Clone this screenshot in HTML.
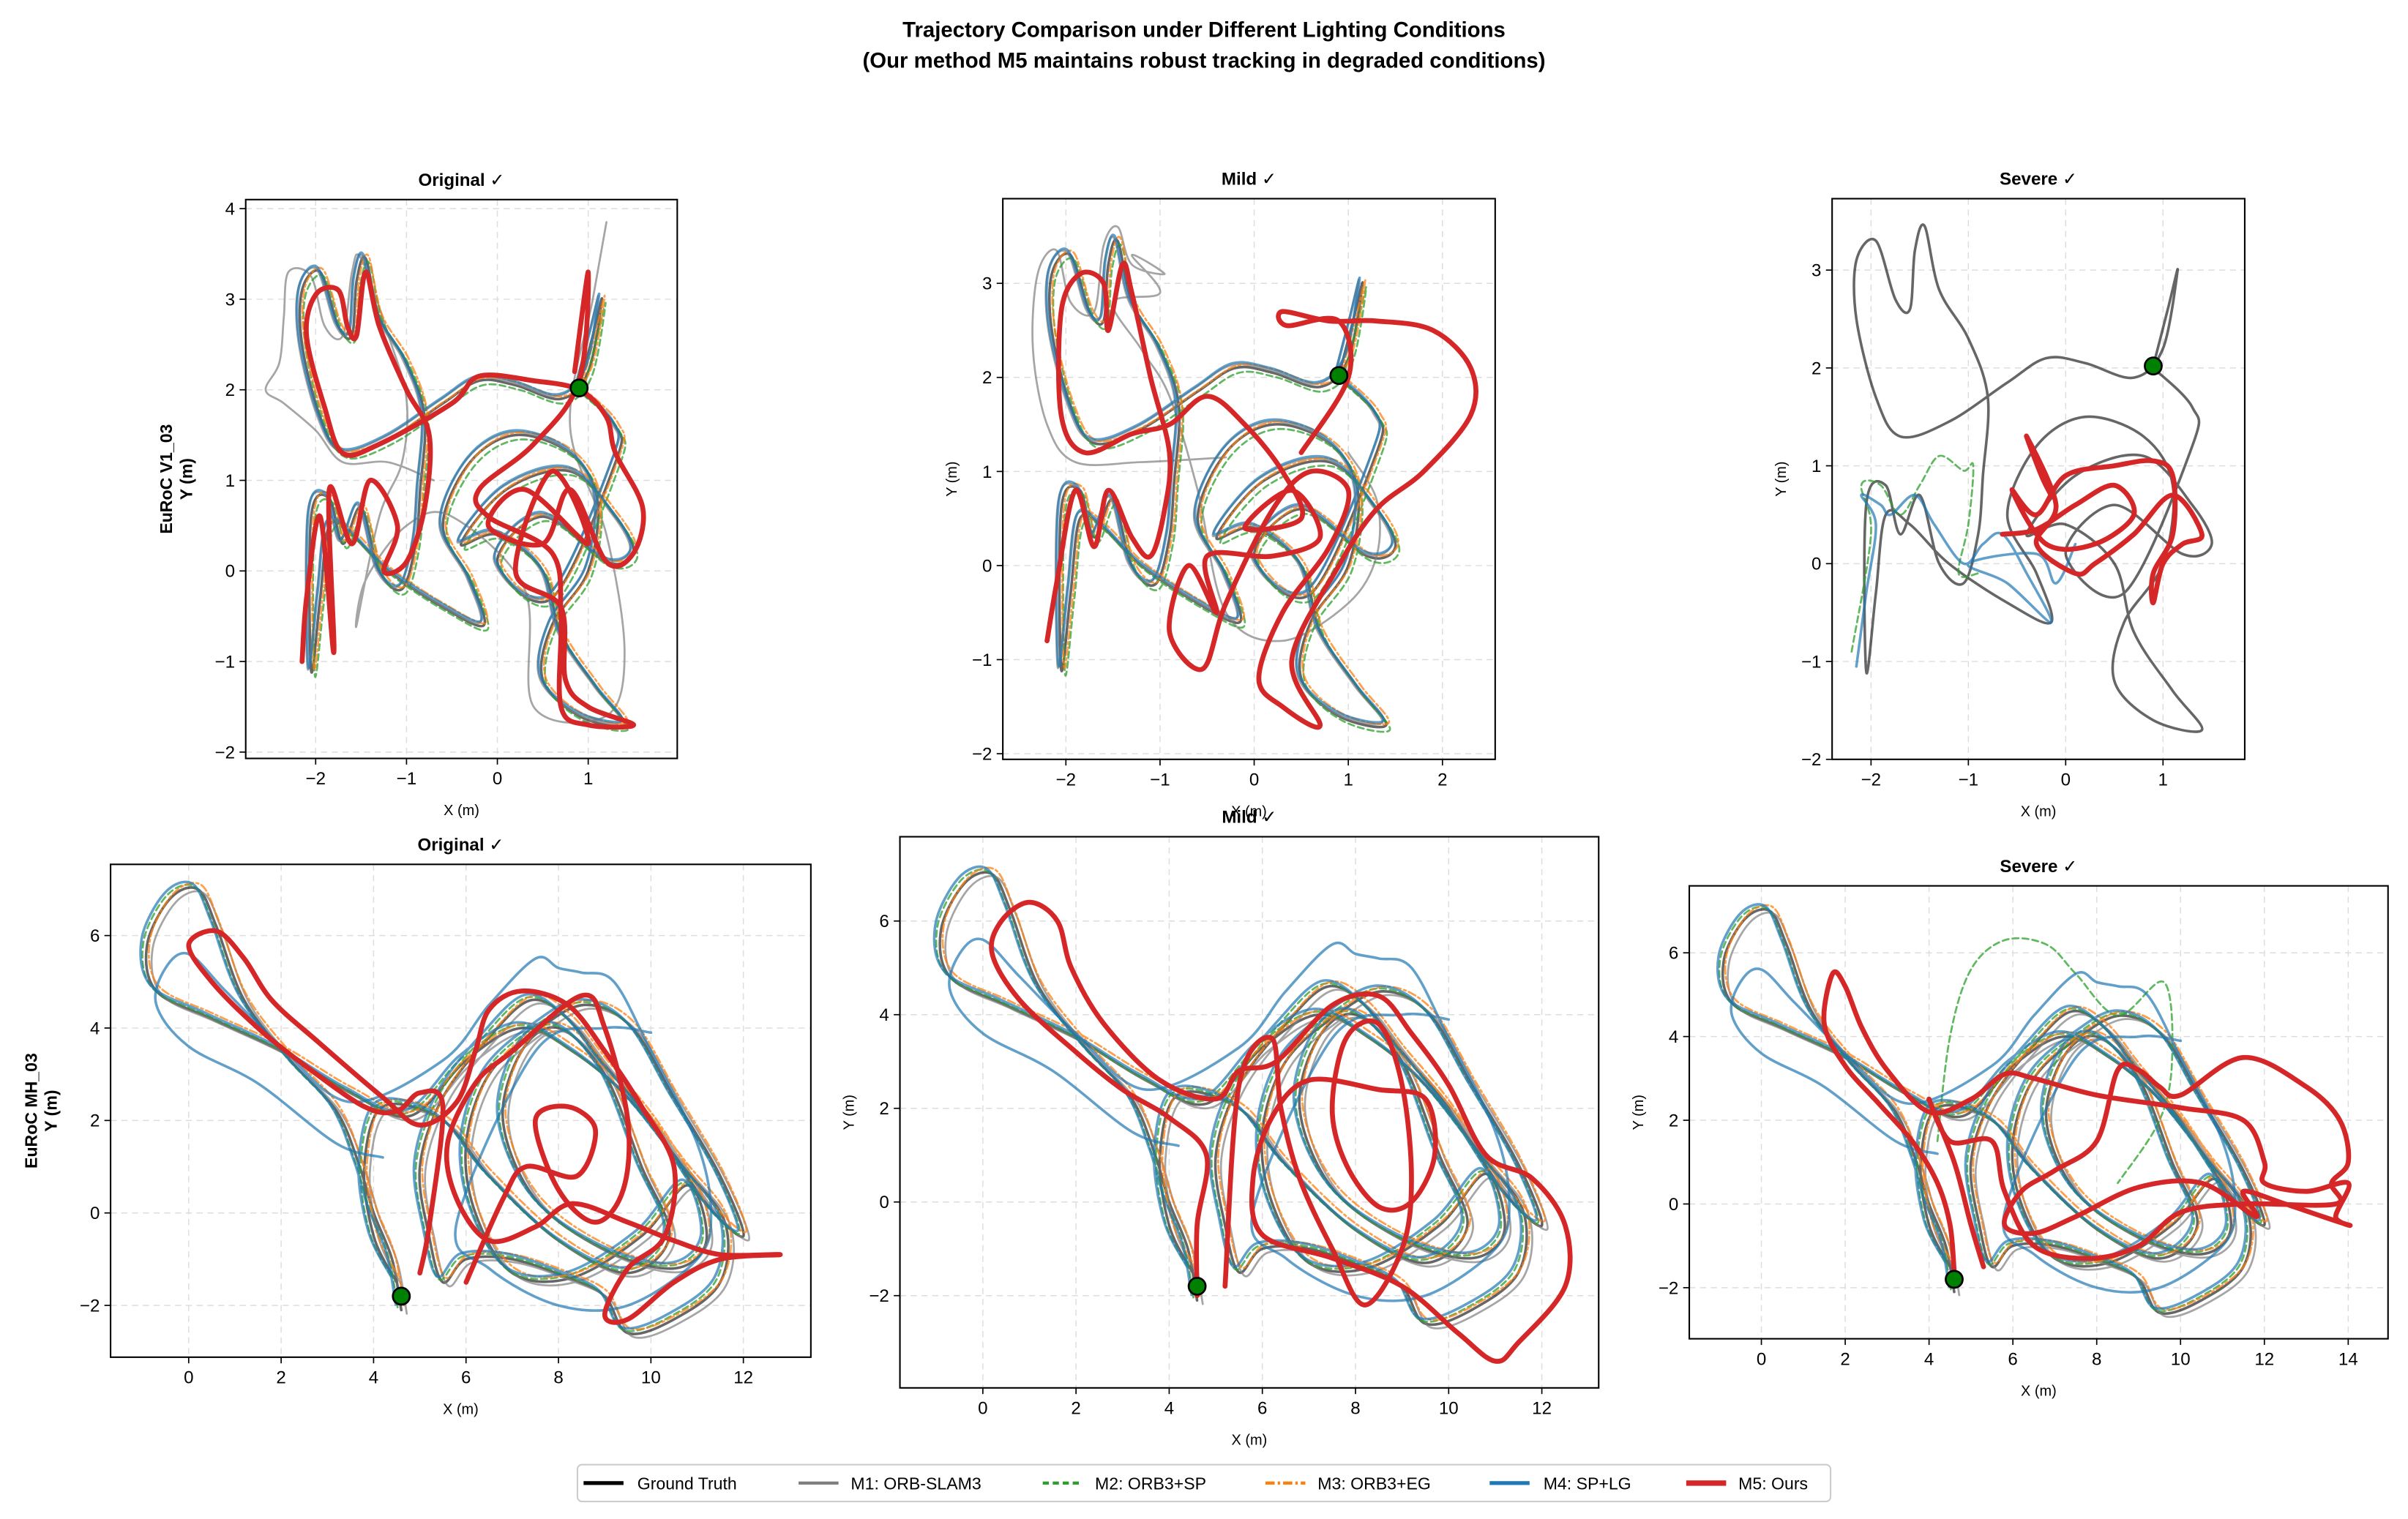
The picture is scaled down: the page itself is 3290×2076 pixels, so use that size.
<!DOCTYPE html>
<html><head><meta charset="utf-8"><style>
html,body{margin:0;padding:0;background:#fff;}
svg{display:block;font-family:"Liberation Sans","DejaVu Sans",sans-serif;}
</style></head><body>
<svg id="chart" width="3290" height="2076" viewBox="0 0 1568 989.4" preserveAspectRatio="none" xmlns="http://www.w3.org/2000/svg">
<rect x="0" y="0" width="1568" height="990" fill="#fff"/>
<text x="784" y="24" text-anchor="middle" font-size="14" font-weight="bold">Trajectory Comparison under Different Lighting Conditions</text>
<text x="784" y="44" text-anchor="middle" font-size="14" font-weight="bold">(Our method M5 maintains robust tracking in degraded conditions)</text>
<g id="panels"></g>
<g>
<rect x="376" y="954" width="816" height="24" rx="3" fill="#fff" stroke="#ccc" stroke-width="1"/>
<line x1="380" y1="966" x2="406" y2="966" stroke="#000" stroke-width="2.5"/><text x="415" y="970" font-size="11">Ground Truth</text>
<line x1="520" y1="966" x2="546" y2="966" stroke="#7f7f7f" stroke-width="2"/><text x="554" y="970" font-size="11">M1: ORB-SLAM3</text>
<line x1="679" y1="966" x2="705" y2="966" stroke="#2ca02c" stroke-width="2" stroke-dasharray="4,2.5"/><text x="713" y="970" font-size="11">M2: ORB3+SP</text>
<line x1="824" y1="966" x2="850" y2="966" stroke="#ff7f0e" stroke-width="2" stroke-dasharray="6,2,1.5,2"/><text x="858" y="970" font-size="11">M3: ORB3+EG</text>
<line x1="970" y1="966" x2="996" y2="966" stroke="#1f77b4" stroke-width="2.5"/><text x="1005" y="970" font-size="11">M4: SP+LG</text>
<line x1="1098" y1="966" x2="1124" y2="966" stroke="#d62728" stroke-width="3.5"/><text x="1132" y="970" font-size="11">M5: Ours</text>
</g>
</svg>
<script>
// ---------- data ----------
const v1XTicks = [-2,-1,0,1];
const v1XTicksMild = [-2,-1,0,1,2];
const v1YTicks = [-2,-1,0,1,2,3,4];
const v1YTicksMild = [-2,-1,0,1,2,3];
const mhXTicks = [0,2,4,6,8,10,12];
const mhXTicksSevere = [0,2,4,6,8,10,12,14];
const mhYTicks = [-2,0,2,4,6];
const v1Start = [0.9,2.02];
const mhStart = [4.6,-1.8];

const v1Base = [[0.9,2.02],[1.05,2.6],[1.15,3.0],[1.0,2.2],[0.7,1.9],[0.2,2.05],[-0.2,2.1],[-0.6,1.85],[-1.2,1.45],[-1.7,1.3],[-1.95,1.7],[-2.15,2.5],[-2.15,3.1],[-1.95,3.3],[-1.75,2.7],[-1.6,2.6],[-1.55,3.2],[-1.45,3.45],[-1.3,2.8],[-1.0,2.3],[-0.8,1.7],[-0.85,0.9],[-0.9,0.3],[-1.05,-0.2],[-1.3,0.0],[-1.5,0.7],[-1.7,0.3],[-1.85,0.8],[-2.05,0.6],[-2.05,-1.1],[-1.95,-0.3],[-1.85,0.5],[-1.6,0.4],[-1.2,0.0],[-0.6,-0.4],[-0.15,-0.6],[-0.3,-0.1],[-0.6,0.5],[-0.3,1.2],[0.2,1.5],[0.8,1.3],[1.1,0.8],[1.0,0.0],[0.6,-0.6],[0.5,-1.2],[0.9,-1.6],[1.4,-1.7],[1.1,-1.3],[0.7,-0.7],[0.5,0.0],[0.0,0.4],[-0.4,0.3],[0.1,0.9],[0.8,1.1],[1.3,0.6],[1.5,0.2],[1.2,0.1],[0.5,0.6],[0.0,0.1],[0.6,-0.3],[1.3,1.2],[1.3,1.6],[0.9,2.0]];
const v1M1Extra = [[-0.7,1.0],[-1.2,1.2],[-1.7,1.2],[-2.0,1.55],[-2.35,1.85],[-2.55,2.0],[-2.4,2.3],[-2.35,2.8],[-2.3,3.3],[-2.05,3.25],[-1.9,2.7],[-1.7,2.6],[-1.6,3.3],[-1.5,3.45],[-1.2,2.6],[-1.0,1.9],[-1.05,1.2],[-1.3,0.6],[-1.55,-0.6],[-1.45,-0.1],[-1.0,0.5],[-0.5,0.6],[0.3,-0.2],[0.4,-1.5],[1.2,-1.6],[1.4,-0.9],[1.2,0.4],[0.8,1.6],[1.05,3.0],[1.2,3.85]];
const v1M1ExtraMild = [[-0.3,1.15],[-1.2,1.1],[-1.9,1.1],[-2.2,1.5],[-2.35,2.3],[-2.3,3.1],[-2.1,3.35],[-1.95,2.8],[-1.7,2.7],[-1.6,3.4],[-1.45,3.6],[-1.3,3.2],[-0.95,3.1],[-1.3,3.3],[-1.0,2.9],[-1.5,2.8],[-1.2,2.3],[-0.9,1.8],[-0.6,0.8],[-0.3,-0.5],[0.3,-0.8],[1.0,-0.4],[1.3,0.1],[1.3,0.7],[1.0,1.2]];
const v1Red = [[-2.15,-1.0],[-2.1,-0.3],[-1.95,0.6],[-1.8,-0.9],[-1.85,0.9],[-1.6,0.3],[-1.4,1.0],[-1.1,0.5],[-1.25,0.0],[-1.0,0.1],[-0.8,0.7],[-0.75,1.5],[-1.0,2.0],[-1.3,2.7],[-1.45,3.3],[-1.55,2.6],[-1.65,2.7],[-1.75,3.1],[-2.0,3.05],[-2.1,2.6],[-1.9,1.8],[-1.7,1.3],[-1.3,1.4],[-0.5,1.85],[-0.2,2.15],[0.4,2.1],[0.9,2.0],[1.2,1.7],[1.3,1.3],[1.6,0.7],[1.5,0.2],[1.2,0.1],[0.8,0.9],[0.5,0.3],[-0.1,0.5],[0.3,0.9],[1.0,0.3],[0.6,1.1],[0.2,0.0],[0.7,-0.4],[0.75,-1.2],[1.0,-1.5],[1.5,-1.7],[1.0,-1.7],[0.7,-1.5],[0.7,-0.5],[0.6,0.2],[-0.1,0.6],[-0.2,0.9],[0.4,1.4],[0.9,2.1],[1.0,3.3],[0.85,2.2]];
const v1RedMild = [[-2.2,-0.8],[-2.1,-0.2],[-1.9,0.8],[-1.7,0.2],[-1.55,0.8],[-1.3,0.3],[-1.1,0.1],[-0.95,0.6],[-0.9,1.2],[-1.1,2.0],[-1.3,2.9],[-1.4,3.2],[-1.55,2.5],[-1.6,3.0],[-1.85,3.1],[-2.05,2.7],[-2.05,1.6],[-1.8,1.2],[-1.3,1.4],[-0.9,1.5],[-0.5,1.8],[-0.1,1.5],[0.3,1.0],[0.5,0.5],[-0.1,0.4],[0.4,0.8],[0.7,0.3],[0.2,0.1],[-0.5,0.1],[-0.4,-0.5],[-0.7,0.0],[-0.9,-0.7],[-0.55,-1.1],[-0.3,-0.4],[0.2,0.6],[0.6,1.0],[1.0,0.8],[0.8,0.2],[0.3,-0.5],[0.05,-1.2],[0.3,-1.5],[0.7,-1.7],[0.4,-1.0],[0.9,0.0],[1.3,0.6],[1.8,1.0],[2.3,1.6],[2.3,2.1],[1.9,2.5],[1.3,2.6],[0.8,2.6],[0.3,2.7],[0.35,2.55],[0.9,2.6],[1.0,2.0],[0.5,1.2]];
const v1RedSevere = [[-0.65,0.3],[-0.3,0.35],[0.1,0.6],[0.5,0.8],[0.7,0.5],[0.3,0.2],[-0.2,0.2],[-0.55,0.75],[-0.3,0.5],[0.0,0.9],[0.5,1.0],[0.9,1.05],[1.1,0.9],[1.1,0.3],[0.9,-0.1],[0.9,-0.4],[1.0,0.0],[1.2,0.2],[1.4,0.3],[1.1,0.7],[0.7,0.3],[0.3,0.0],[0.1,-0.1],[-0.3,0.2],[-0.1,0.6],[-0.4,1.3],[-0.25,0.9],[-0.15,0.7]];
const v1BlueSevere = [[-2.15,-1.05],[-2.05,-0.3],[-1.95,0.4],[-2.1,0.7],[-1.9,0.6],[-1.8,0.5],[-1.55,0.7],[-1.35,0.4],[-1.05,0.0],[-0.85,0.2],[-0.65,0.3],[-0.4,-0.1],[-0.15,-0.6],[-0.6,-0.2],[-1.0,0.0],[-0.3,0.1],[-0.1,-0.2],[0.1,0.2]];
const v1GreenSevere = [[-2.2,-0.9],[-2.0,0.3],[-2.1,0.8],[-1.9,0.8],[-1.7,0.5],[-1.5,0.8],[-1.3,1.1],[-1.05,0.95],[-0.95,1.0],[-1.0,0.4],[-1.1,-0.1],[-0.9,-0.1]];
const v1M1Off = [-0.04,0.03], v1M2Off = [0.04,-0.05], v1M3Off = [0.03,0.03], v1M4Off = [-0.03,0.05];

const mhBase = [[4.6,-2.1],[4.4,-1.0],[4.0,0.0],[3.7,1.0],[3.2,2.2],[2.2,3.3],[1.2,4.6],[0.6,6.2],[0.2,7.0],[-0.4,6.8],[-0.9,5.8],[-0.7,4.8],[0.5,4.2],[2.0,3.5],[3.5,2.6],[4.8,2.1],[6.0,3.3],[7.2,4.0],[8.3,3.5],[9.5,2.5],[10.7,1.0],[11.6,-0.2],[11.5,-1.5],[10.5,-2.3],[9.5,-2.6],[9.0,-1.8],[8.2,-1.4],[7.0,-1.0],[6.0,-1.0],[5.5,-1.5],[5.2,-0.5],[5.0,1.0],[5.5,2.5],[6.5,3.8],[7.4,4.6],[8.2,4.2],[9.0,3.2],[10.0,2.0],[11.2,0.2],[12.0,-0.5],[11.5,0.8],[10.5,2.5],[9.6,4.0],[8.6,4.5],[7.6,4.0],[6.5,3.0],[6.0,1.5],[6.2,0.0],[7.0,-1.3],[8.3,-1.4],[9.8,-0.5],[10.8,0.6],[11.2,-0.6],[10.5,-1.2],[9.0,-0.8],[7.5,0.3],[6.8,2.0],[7.2,3.5],[8.0,4.0],[9.0,3.0],[9.8,1.0],[10.4,-0.5],[9.5,-1.3],[8.0,-0.6],[6.5,0.8],[5.5,2.0],[4.2,2.3],[3.8,1.0],[4.0,-0.5],[4.5,-1.5]];
const mhBlueExtra = [[4.2,1.2],[3.2,1.5],[1.5,2.8],[0.0,3.6],[-0.7,4.5],[-0.5,5.3],[0.0,5.6],[0.8,4.8],[2.0,3.6],[3.5,2.4],[5.5,3.3],[6.5,4.5],[7.5,5.5],[8.0,5.3],[8.5,5.2],[9.2,5.0],[10.0,3.5],[11.0,1.5],[11.3,0.0],[11.0,-1.0],[9.5,-2.0],[8.0,-2.0],[6.5,-1.2],[5.8,-0.2],[7.5,3.5],[9.0,4.0],[10.0,3.9]];
const mhRed = [[5.0,-1.3],[5.2,-0.3],[5.5,2.3],[5.0,2.6],[4.5,2.2],[3.8,2.3],[2.5,3.2],[1.5,4.0],[0.5,5.0],[0.0,5.8],[0.6,6.1],[1.2,5.5],[1.8,4.6],[2.8,3.7],[4.2,2.5],[5.0,1.9],[5.8,2.4],[6.2,3.5],[6.5,4.4],[7.2,4.8],[8.2,4.5],[9.0,3.5],[9.8,2.3],[10.5,1.0],[10.3,-0.5],[9.5,-1.2],[9.0,-2.2],[9.5,-2.3],[10.5,-1.5],[11.5,-1.0],[12.8,-0.9],[11.5,-0.9],[10.5,-0.6],[9.5,-0.2],[8.3,0.2],[7.5,-0.3],[6.5,-0.6],[5.8,0.3],[5.6,1.5],[6.2,2.8],[7.0,3.5],[8.5,4.7],[9.0,4.0],[9.5,2.0],[9.4,0.5],[8.8,-0.2],[8.0,0.5],[7.5,2.0],[8.2,2.3],[8.8,1.8],[8.4,0.8],[7.3,1.0],[6.8,0.3],[6.0,-1.5]];
const mhRedMild = [[4.6,-2.0],[4.6,-0.5],[4.8,1.0],[4.0,1.8],[3.0,2.4],[2.0,3.2],[0.8,4.3],[0.2,5.3],[0.4,6.0],[1.0,6.4],[1.6,6.0],[1.9,5.0],[2.6,3.8],[3.8,2.6],[5.0,2.2],[5.5,2.8],[6.3,3.0],[7.5,4.2],[8.5,4.4],[9.2,3.6],[10.0,2.5],[10.8,1.0],[11.8,0.5],[12.5,-0.5],[12.5,-1.8],[11.5,-3.0],[11.0,-3.4],[10.2,-2.8],[9.0,-1.8],[7.5,-1.2],[6.0,-0.7],[5.8,0.5],[6.2,1.8],[7.0,2.6],[8.5,2.4],[9.5,2.2],[9.7,1.0],[9.2,0.0],[8.5,-0.1],[7.8,0.8],[7.5,2.0],[7.8,3.5],[8.5,3.8],[9.0,2.5],[9.2,0.5],[9.0,-1.0],[8.2,-2.2],[7.5,-1.0],[6.8,0.5],[6.4,2.0],[6.2,3.5],[5.5,2.5],[5.2,-1.8]];
const mhRedSevere = [[4.6,-1.6],[4.5,-0.5],[4.2,0.5],[3.6,1.5],[2.8,2.4],[2.0,3.3],[1.5,4.3],[1.7,5.5],[2.0,5.2],[2.4,4.2],[3.0,3.2],[4.0,2.2],[5.0,2.5],[5.8,3.1],[6.5,3.0],[8.0,2.6],[10.0,2.3],[11.5,2.0],[12.0,1.0],[12.0,0.5],[13.0,0.3],[14.0,0.5],[13.7,-0.3],[14.0,-0.5],[12.5,0.0],[11.5,0.3],[11.8,-0.3],[10.5,0.5],[9.0,0.4],[7.5,-0.3],[6.5,-0.7],[5.8,-0.5],[6.2,0.3],[7.0,0.8],[8.0,1.5],[8.5,3.2],[9.0,3.2],[9.5,2.8],[10.0,2.6],[11.5,3.5],[13.0,2.8],[13.8,2.0],[14.0,1.0],[13.6,0.5],[13.7,0.0],[11.5,0.0],[10.0,-0.2],[9.0,-1.0],[7.8,-1.3],[6.5,-1.0],[5.8,0.3],[5.5,1.5],[4.5,1.5],[4.0,2.5],[4.6,1.0],[5.0,-0.5],[5.3,-1.5]];
const mhGreenSevere = [[4.2,1.5],[4.5,4.0],[5.0,5.6],[5.8,6.3],[6.8,6.2],[7.5,5.5],[8.5,4.5],[9.6,5.3],[9.8,3.5],[9.5,2.0],[8.5,0.5]];
const mhM1Off = [0.12,-0.08], mhM2Off = [-0.08,0.06], mhM3Off = [0.06,0.1], mhM4Off = [-0.12,0.12];

// ---------- layout ----------
const panels = [
 {id:'v1-original',title:'Original ✓',L:160,R:441,T:130,B:494,xd:[-2.77,1.98],yd:[-2.07,4.1],xt:v1XTicks,yt:v1YTicks,row:'EuRoC V1_03'},
 {id:'v1-mild',title:'Mild ✓',L:653,R:973.6,T:129.4,B:494.6,xd:[-2.67,2.56],yd:[-2.06,3.9],xt:v1XTicksMild,yt:v1YTicksMild},
 {id:'v1-severe',title:'Severe ✓',L:1193,R:1461.7,T:129.4,B:494.6,xd:[-2.4,1.84],yd:[-2.0,3.73],xt:v1XTicks,yt:v1YTicksMild},
 {id:'mh-original',title:'Original ✓',L:72,R:528,T:563,B:884,xd:[-1.69,13.46],yd:[-3.12,7.54],xt:mhXTicks,yt:mhYTicks,row:'EuRoC MH_03'},
 {id:'mh-mild',title:'Mild ✓',L:586,R:1041,T:545,B:904,xd:[-1.78,13.22],yd:[-3.97,7.8],xt:mhXTicks,yt:mhYTicks},
 {id:'mh-severe',title:'Severe ✓',L:1100,R:1555,T:577,B:872,xd:[-1.72,14.95],yd:[-3.22,7.6],xt:mhXTicksSevere,yt:mhYTicks}
];
const NS='http://www.w3.org/2000/svg';
const root=document.getElementById('panels');
function mk(tag,attrs,parent){const e=document.createElementNS(NS,tag);for(const k in attrs)e.setAttribute(k,attrs[k]);(parent||root).appendChild(e);return e;}
function axes(p){return {sx:x=>p.L+(x-p.xd[0])/(p.xd[1]-p.xd[0])*(p.R-p.L), sy:y=>p.B-(y-p.yd[0])/(p.yd[1]-p.yd[0])*(p.B-p.T)};}
function pathD(pts,ax,off){
  const P=pts.map(q=>[ax.sx(q[0]+(off?off[0]:0)),ax.sy(q[1]+(off?off[1]:0))]);
  let d='M'+P[0][0].toFixed(1)+','+P[0][1].toFixed(1);
  for(let i=0;i<P.length-1;i++){
    const p0=P[i-1]||P[i],p1=P[i],p2=P[i+1],p3=P[i+2]||P[i+1];
    const c1=[p1[0]+(p2[0]-p0[0])/6,p1[1]+(p2[1]-p0[1])/6],c2=[p2[0]-(p3[0]-p1[0])/6,p2[1]-(p3[1]-p1[1])/6];
    d+=' C'+c1[0].toFixed(1)+','+c1[1].toFixed(1)+' '+c2[0].toFixed(1)+','+c2[1].toFixed(1)+' '+p2[0].toFixed(1)+','+p2[1].toFixed(1);
  }
  return d;
}
const ST={
 gt:{stroke:'#000','stroke-opacity':0.6,'stroke-width':1.7},
 m1:{stroke:'#7f7f7f','stroke-opacity':0.7,'stroke-width':1.3},
 m2:{stroke:'#2ca02c','stroke-opacity':0.75,'stroke-width':1.3,'stroke-dasharray':'4,2.5'},
 m3:{stroke:'#ff7f0e','stroke-opacity':0.75,'stroke-width':1.3,'stroke-dasharray':'5,2,1.5,2'},
 m4:{stroke:'#1f77b4','stroke-opacity':0.7,'stroke-width':1.7},
 m5:{stroke:'#d62728','stroke-opacity':1,'stroke-width':3.2}
};
function series(g,ax,pts,st,name,off){
  const el=mk('path',Object.assign({d:pathD(pts,ax,off),fill:'none','stroke-linejoin':'round','stroke-linecap':'round'},ST[st]),g);
  
  
}
panels.forEach((p,pi)=>{
  const ax=axes(p);
  const g=mk('g',{});
  
  
  const cid='clip'+pi;
  const cp=mk('clipPath',{id:cid},g);mk('rect',{x:p.L,y:p.T,width:p.R-p.L,height:p.B-p.T},cp);
  p.xt.forEach(t=>{const x=ax.sx(t);
    const gl=mk('line',{x1:x,x2:x,y1:p.T,y2:p.B,stroke:'#ddd','stroke-width':0.7,'stroke-dasharray':'4,3'},g);
    
    
    mk('line',{x1:x,x2:x,y1:p.B,y2:p.B+4,stroke:'#000','stroke-width':0.8},g);
    const tl=mk('text',{x:x,y:p.B+17,'text-anchor':'middle','font-size':11.5},g);tl.textContent=t<0?'−'+(-t):String(t);
    
    });
  p.yt.forEach(t=>{const y=ax.sy(t);
    const gl=mk('line',{x1:p.L,x2:p.R,y1:y,y2:y,stroke:'#ddd','stroke-width':0.7,'stroke-dasharray':'4,3'},g);
    
    
    mk('line',{x1:p.L-4,x2:p.L,y1:y,y2:y,stroke:'#000','stroke-width':0.8},g);
    const tl=mk('text',{x:p.L-7,y:y+4,'text-anchor':'end','font-size':11.5},g);tl.textContent=t<0?'−'+(-t):String(t);
    
    });
  const lines=mk('g',{'clip-path':'url(#'+cid+')'},g);
  const isV1=pi<3, kind=pi%3;
  if(isV1){
    series(lines,ax,v1Base,'gt','ground-truth-line');
    if(kind<2){
      series(lines,ax,kind===0?v1M1Extra:v1M1ExtraMild,'m1','m1-extra-line');
      series(lines,ax,v1Base,'m1','m1-line',v1M1Off);
      series(lines,ax,v1Base,'m2','m2-line',v1M2Off);
      series(lines,ax,v1Base,'m3','m3-line',v1M3Off);
      series(lines,ax,v1Base,'m4','m4-line',v1M4Off);
      series(lines,ax,kind===0?v1Red:v1RedMild,'m5','m5-line');
    } else {
      series(lines,ax,v1GreenSevere,'m2','m2-line');
      series(lines,ax,v1BlueSevere,'m4','m4-line');
      series(lines,ax,v1RedSevere,'m5','m5-line');
    }
  } else {
    series(lines,ax,mhBase,'gt','ground-truth-line');
    series(lines,ax,mhBase,'m1','m1-line',mhM1Off);
    series(lines,ax,mhBase,'m2','m2-line',mhM2Off);
    if(kind===2) series(lines,ax,mhGreenSevere,'m2','m2-extra-line');
    series(lines,ax,mhBase,'m3','m3-line',mhM3Off);
    series(lines,ax,mhBase,'m4','m4-line',mhM4Off);
    series(lines,ax,mhBlueExtra,'m4','m4-extra-line');
    series(lines,ax,kind===0?mhRed:(kind===1?mhRedMild:mhRedSevere),'m5','m5-line');
  }
  const s=isV1?v1Start:mhStart;
  const sm=mk('circle',{cx:ax.sx(s[0]),cy:ax.sy(s[1]),r:5.5,fill:'#008000',stroke:'#000','stroke-width':1.3},g);
  
  
  const fr=mk('rect',{x:p.L,y:p.T,width:p.R-p.L,height:p.B-p.T,fill:'none',stroke:'#000','stroke-width':1},g);
  
  
  const ti=mk('text',{x:(p.L+p.R)/2,y:p.T-9,'text-anchor':'middle','font-size':11.5,'font-weight':'bold'},g);ti.textContent=p.title;
  
  
  const xl=mk('text',{x:(p.L+p.R)/2,y:p.B+37,'text-anchor':'middle','font-size':9.5},g);xl.textContent='X (m)';
  
  
  const cy=(p.T+p.B)/2;
  if(p.row){
    const yl=mk('text',{transform:'translate('+(p.L-48)+','+cy+') rotate(-90)','text-anchor':'middle','font-size':11,'font-weight':'bold'},g);
    const t1=mk('tspan',{x:0,dy:0},yl);t1.textContent=p.row;
    const t2=mk('tspan',{x:0,dy:13},yl);t2.textContent='Y (m)';
    
    
  } else {
    const yl=mk('text',{transform:'translate('+(p.L-30)+','+cy+') rotate(-90)','text-anchor':'middle','font-size':9.5},g);yl.textContent='Y (m)';
    
    
  }
});
</script>
</body></html>
